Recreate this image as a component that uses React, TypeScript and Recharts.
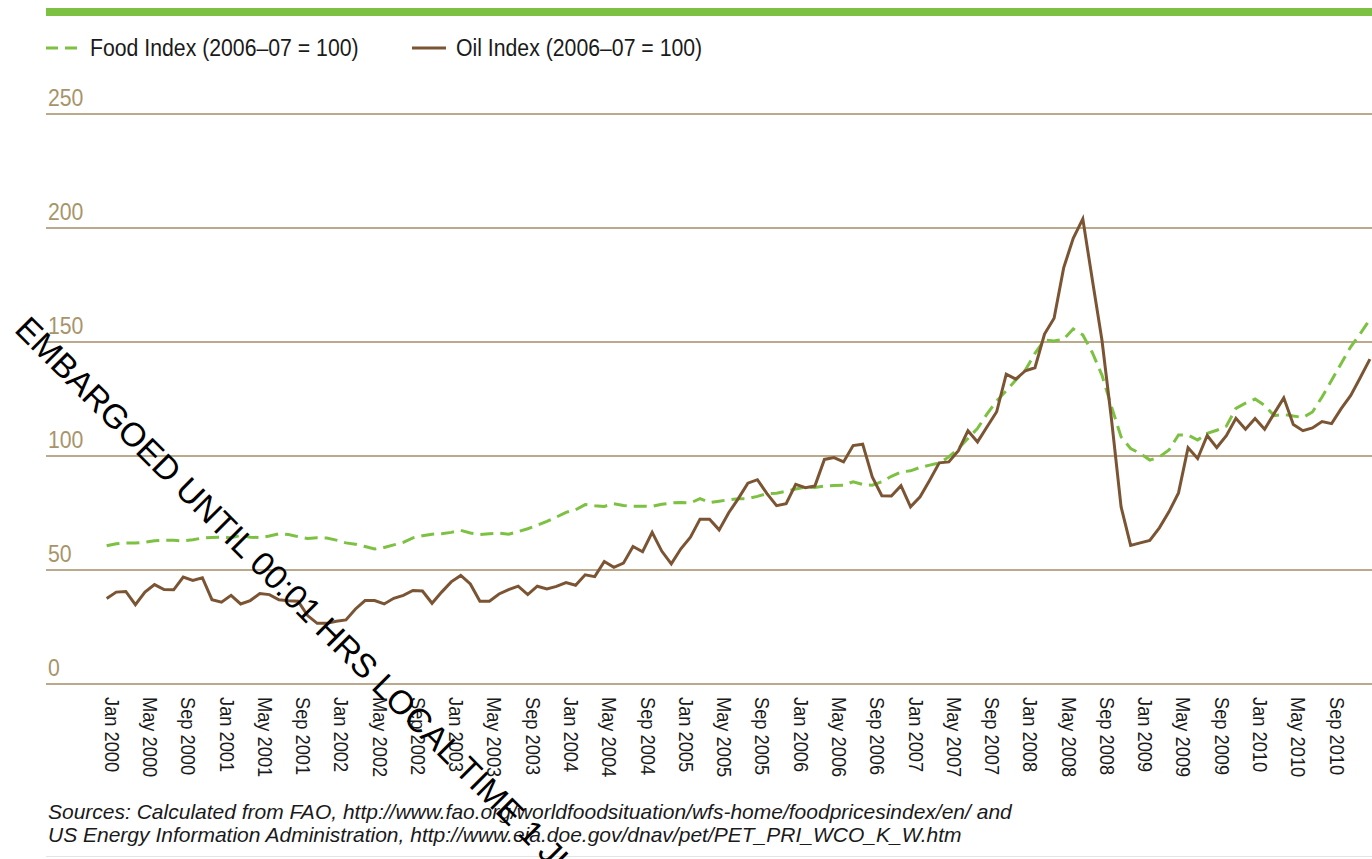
import { CartesianGrid, Line, LineChart, XAxis, YAxis } from 'recharts';

const FONT = "'Liberation Sans', Arial, sans-serif";
const FOOD = '#7dc142';
const OIL = '#7b5533';
const GRID = '#a38d63';
const TICK = '#a8946a';
const NARROW = 0.87; // the original uses a condensed face

// monthly, Jan 2000 .. Jan 2011
const foodIndex = [
  60.6, 61.5, 61.8, 61.8, 62.2, 62.8, 63.0, 63.0, 62.8, 63.3, 64.0, 64.3,
  64.4, 64.1, 65.2, 64.4, 64.2, 64.9, 65.9, 65.6, 64.6, 63.8, 64.1, 64.0,
  63.1, 61.9, 61.3, 60.3, 59.2, 59.9, 61.0, 62.1, 64.1, 65.0, 65.7, 65.9,
  66.5, 67.4, 66.2, 65.6, 65.9, 66.2, 65.7, 66.8, 68.1, 69.6, 71.3, 73.2,
  75.3, 76.4, 78.7, 78.2, 77.9, 79.1, 78.3, 78.0, 78.0, 77.9, 78.8, 79.4,
  79.6, 79.4, 81.3, 79.6, 80.2, 80.8, 81.3, 81.3, 82.3, 83.5, 83.7, 84.5,
  85.5, 86.4, 86.2, 86.8, 87.1, 87.2, 88.7, 87.5, 87.2, 88.7, 91.1, 93.0,
  93.5, 95.0, 96.0, 97.0, 99.6, 103.3, 107.7, 112.1, 118.5, 124.2, 128.6, 133.3,
  137.7, 145.0, 150.9, 150.4, 151.2, 155.7, 153.1, 145.3, 135.5, 121.6, 108.4, 103.3,
  101.1, 98.2, 99.6, 102.6, 109.2, 109.2, 107.0, 109.9, 111.3, 113.1, 120.9, 123.2,
  125.0, 122.2, 117.7, 118.2, 117.5, 116.9, 119.3, 125.9, 133.2, 140.6, 147.9, 153.7,
  159.9,
];

const oilIndex = [
  37.5, 40.3, 40.6, 34.8, 40.3, 43.6, 41.4, 41.3, 46.9, 45.4, 46.6, 37.0,
  35.9, 38.9, 35.1, 36.6, 39.7, 39.2, 36.9, 36.5, 36.3, 30.0, 26.6, 26.6,
  27.5, 28.1, 32.9, 36.6, 36.6, 35.1, 37.6, 38.9, 41.0, 40.8, 35.4, 40.3,
  44.8, 47.6, 43.9, 36.3, 36.3, 39.5, 41.4, 42.9, 39.2, 42.9, 41.7, 42.8,
  44.5, 43.3, 47.9, 47.1, 53.7, 51.2, 53.0, 60.3, 58.0, 66.5, 58.3, 52.7,
  59.3, 64.4, 72.3, 72.3, 67.6, 75.1, 81.3, 88.1, 89.6, 83.5, 78.2, 79.1,
  87.6, 86.1, 86.8, 98.5, 99.3, 97.4, 104.6, 105.2, 90.8, 82.6, 82.5, 87.0,
  77.7, 82.1, 89.4, 97.0, 97.4, 102.3, 111.1, 106.2, 112.8, 119.4, 135.9, 133.7,
  137.4, 138.7, 153.5, 160.4, 182.5, 195.5, 204.0, 177.2, 150.9, 116.0, 77.7, 60.8,
  61.9, 63.0, 68.5, 75.5, 83.8, 103.6, 98.9, 109.0, 103.7, 108.9, 116.5, 111.7,
  116.4, 111.7, 118.7, 125.5, 113.8, 111.1, 112.3, 115.1, 114.2, 120.8, 126.6, 134.4,
  142.5,
];

const tickLabels = [
  'Jan 2000', 'May 2000', 'Sep 2000', 'Jan 2001', 'May 2001', 'Sep 2001',
  'Jan 2002', 'May 2002', 'Sep 2002', 'Jan 2003', 'May 2003', 'Sep 2003',
  'Jan 2004', 'May 2004', 'Sep 2004', 'Jan 2005', 'May 2005', 'Sep 2005',
  'Jan 2006', 'May 2006', 'Sep 2006', 'Jan 2007', 'May 2007', 'Sep 2007',
  'Jan 2008', 'May 2008', 'Sep 2008', 'Jan 2009', 'May 2009', 'Sep 2009',
  'Jan 2010', 'May 2010', 'Sep 2010',
];

const yTicks = [0, 50, 100, 150, 200, 250];

const data = foodIndex.map((food, i) => ({ i, food, oil: oilIndex[i] }));
const xTicks = tickLabels.map((_, k) => k * 4);

function XTick({ x, payload }: any) {
  const label = tickLabels[payload.value / 4];
  return (
    <g transform={`translate(${x - 2}, 697) rotate(90) scale(${NARROW}, 1)`}>
      <text x={0} y={0} fontFamily={FONT} fontSize={21} fill="#1a1a1a">
        {label}
      </text>
    </g>
  );
}

function YTick({ y, payload }: any) {
  return (
    <g transform={`translate(48, ${y - 8}) scale(0.885, 1)`}>
      <text x={0} y={0} fontFamily={FONT} fontSize={24} fill={TICK}>
        {payload.value}
      </text>
    </g>
  );
}

export default function App() {
  return (
    <div
      style={{
        position: 'absolute',
        left: 0,
        top: 0,
        width: 1372,
        height: 859,
        overflow: 'hidden',
        background: '#fff',
        fontFamily: FONT,
      }}
    >
      <div style={{ position: 'absolute', left: 46, top: 8, width: 1326, height: 8, background: FOOD }} />

      {/* legend */}
      <svg style={{ position: 'absolute', left: 0, top: 30 }} width={760} height={36}>
        <line x1={46} x2={78} y1={18} y2={18} stroke={FOOD} strokeWidth={3} strokeDasharray="12 7" />
        <g transform="translate(90, 26) scale(0.885, 1)">
          <text x={0} y={0} fontFamily={FONT} fontSize={24} fill="#1a1a1a">
            Food Index (2006–07 = 100)
          </text>
        </g>
        <line x1={412} x2={446} y1={18} y2={18} stroke={OIL} strokeWidth={3} />
        <g transform="translate(456, 26) scale(0.885, 1)">
          <text x={0} y={0} fontFamily={FONT} fontSize={24} fill="#1a1a1a">
            Oil Index (2006–07 = 100)
          </text>
        </g>
      </svg>

      <div style={{ position: 'absolute', left: 0, top: 0 }}>
        <LineChart width={1372} height={800} data={data} margin={{ top: 114, right: 0, bottom: 0, left: 0 }}>
          <CartesianGrid horizontal vertical={false} stroke={GRID} strokeWidth={1.5} />
          <XAxis
            type="number"
            dataKey="i"
            domain={[-6.34, 132.22]}
            allowDataOverflow
            ticks={xTicks}
            interval={0}
            tick={<XTick />}
            tickLine={false}
            axisLine={false}
            height={116}
          />
          <YAxis
            type="number"
            domain={[0, 250]}
            ticks={yTicks}
            width={46}
            tick={<YTick />}
            tickLine={false}
            axisLine={false}
          />
          <Line
            type="linear"
            dataKey="food"
            stroke={FOOD}
            strokeWidth={3}
            strokeDasharray="13 7"
            dot={false}
            isAnimationActive={false}
          />
          <Line
            type="linear"
            dataKey="oil"
            stroke={OIL}
            strokeWidth={3}
            dot={false}
            isAnimationActive={false}
          />
        </LineChart>
      </div>

      <div
        style={{
          position: 'absolute',
          left: 48,
          top: 800,
          fontSize: 21,
          fontStyle: 'italic',
          lineHeight: '23px',
          color: '#1a1a1a',
          whiteSpace: 'nowrap',
        }}
      >
        Sources: Calculated from FAO, http://www.fao.org/worldfoodsituation/wfs-home/foodpricesindex/en/ and
        <br />
        US Energy Information Administration, http://www.eia.doe.gov/dnav/pet/PET_PRI_WCO_K_W.htm
      </div>

      <div style={{ position: 'absolute', left: 46, top: 856, width: 1326, height: 1, background: '#e4e4e4' }} />

      <div
        style={{
          position: 'absolute',
          left: 33,
          top: 311,
          transform: 'rotate(45deg)',
          transformOrigin: '0 0',
          fontFamily: FONT,
          fontSize: 33.5,
          lineHeight: 1,
          color: '#000',
          whiteSpace: 'nowrap',
          pointerEvents: 'none',
        }}
      >
        EMBARGOED UNTIL 00:01 HRS LOCAL TIME 1 JU
      </div>
    </div>
  );
}
